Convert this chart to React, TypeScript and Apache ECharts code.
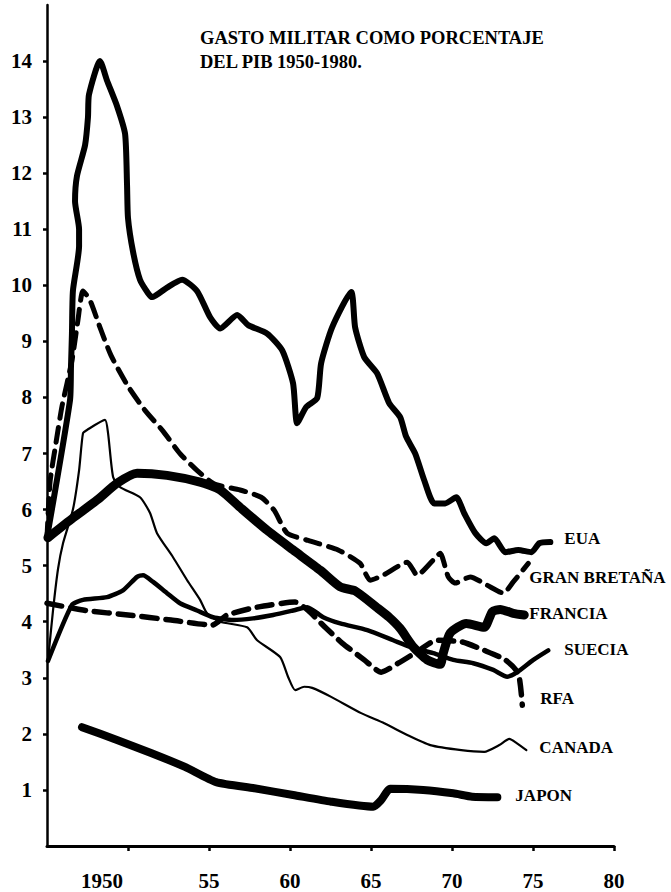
import React, { useEffect, useRef } from "react";
import * as echarts from "echarts";

// ---- axis ticks / labels ----
const yTickValues = [1, 2, 3, 4, 5, 6, 7, 8, 9, 10, 11, 12, 13, 14];
const xTickValues = [1950, 1955, 1960, 1965, 1970, 1975, 1980];
const xTickLabels = ["1950", "55", "60", "65", "70", "75", "80"];
const titleLines = ["GASTO MILITAR COMO PORCENTAJE", "DEL PIB 1950-1980."];

// ---- series data (year, % of GDP) ----
const euaYears = [1945.0, 1946.42, 1946.48, 1946.54, 1946.6, 1946.98, 1946.98, 1946.73, 1946.85, 1947.35, 1947.53, 1947.59, 1948.27, 1948.71, 1949.32, 1949.82, 1949.94, 1950.0, 1950.31, 1950.74, 1951.24, 1951.49, 1952.41, 1953.34, 1954.26, 1955.07, 1955.69, 1956.74, 1957.42, 1958.59, 1959.52, 1960.19, 1960.44, 1961.0, 1961.68, 1961.92, 1962.6, 1963.78, 1964.02, 1964.58, 1965.38, 1966.12, 1966.8, 1967.17, 1967.73, 1968.29, 1968.9, 1969.58, 1970.26, 1970.76, 1971.44, 1972.12, 1972.61, 1973.29, 1974.09, 1974.9, 1975.39, 1976.07];
const euaValues = [5.5, 7.95, 8.54, 9.14, 9.9, 10.7, 11.0, 11.5, 11.95, 12.5, 13.0, 13.4, 14.0, 13.65, 13.2, 12.7, 11.8, 11.2, 10.6, 10.1, 9.86, 9.79, 9.96, 10.1, 9.9, 9.43, 9.23, 9.47, 9.29, 9.14, 8.84, 8.25, 7.54, 7.83, 7.99, 8.61, 9.25, 9.88, 9.25, 8.72, 8.43, 7.9, 7.65, 7.3, 7.0, 6.52, 6.11, 6.11, 6.22, 5.93, 5.58, 5.4, 5.49, 5.24, 5.28, 5.24, 5.4, 5.42];

const gbYears = [1945.0, 1945.19, 1945.56, 1945.93, 1946.54, 1946.91, 1947.22, 1947.66, 1948.27, 1948.95, 1950.0, 1951.05, 1952.16, 1953.21, 1954.26, 1955.31, 1956.92, 1958.22, 1959.02, 1959.82, 1961.12, 1962.97, 1964.33, 1964.95, 1965.75, 1967.24, 1967.85, 1968.84, 1969.27, 1969.77, 1970.2, 1971.13, 1972.18, 1973.17, 1973.78, 1974.71];
const gbValues = [5.5, 6.5, 7.2, 7.85, 8.66, 9.38, 9.9, 9.73, 9.25, 8.75, 8.2, 7.77, 7.4, 7.0, 6.7, 6.46, 6.35, 6.22, 5.99, 5.58, 5.45, 5.28, 5.04, 4.74, 4.83, 5.06, 4.83, 5.1, 5.22, 4.8, 4.69, 4.8, 4.65, 4.51, 4.71, 5.04];

const franciaYears = [1945.06, 1946.6, 1948.09, 1949.32, 1950.56, 1952.41, 1954.45, 1955.69, 1956.92, 1958.59, 1960.19, 1961.86, 1963.1, 1964.02, 1965.38, 1966.12, 1966.8, 1967.61, 1968.47, 1969.27, 1969.46, 1969.89, 1970.88, 1971.99, 1972.49, 1972.98, 1973.78, 1974.46];
const franciaValues = [5.5, 5.85, 6.17, 6.47, 6.65, 6.61, 6.49, 6.35, 6.04, 5.63, 5.28, 4.92, 4.62, 4.55, 4.25, 4.08, 3.88, 3.55, 3.32, 3.24, 3.44, 3.8, 3.97, 3.9, 4.18, 4.22, 4.15, 4.12];

const sueciaYears = [1945.06, 1946.54, 1947.22, 1948.71, 1949.69, 1950.56, 1950.93, 1951.55, 1952.41, 1953.21, 1954.26, 1955.25, 1956.49, 1957.72, 1958.96, 1960.19, 1961.06, 1962.05, 1963.1, 1964.77, 1966.37, 1967.42, 1968.84, 1970.08, 1971.31, 1972.55, 1973.41, 1974.03, 1975.02, 1975.94];
const sueciaValues = [3.3, 4.3, 4.39, 4.44, 4.56, 4.8, 4.83, 4.71, 4.51, 4.33, 4.2, 4.08, 4.03, 4.06, 4.12, 4.2, 4.26, 4.08, 3.97, 3.85, 3.67, 3.55, 3.44, 3.32, 3.26, 3.14, 3.02, 3.1, 3.32, 3.49];

const rfaYears = [1945.0, 1947.41, 1950.0, 1952.66, 1955.19, 1956.12, 1957.97, 1960.32, 1961.12, 1962.17, 1963.22, 1964.58, 1965.63, 1966.68, 1967.98, 1969.03, 1970.63, 1971.99, 1973.29, 1974.09, 1974.34];
const rfaValues = [4.33, 4.2, 4.12, 4.03, 3.94, 4.12, 4.26, 4.35, 4.2, 3.9, 3.62, 3.32, 3.1, 3.26, 3.49, 3.67, 3.64, 3.49, 3.32, 3.08, 2.51];

const canadaYears = [1945.06, 1945.37, 1945.68, 1945.99, 1946.6, 1946.98, 1947.22, 1947.47, 1948.58, 1948.77, 1949.08, 1949.51, 1950.74, 1951.36, 1951.79, 1952.78, 1953.65, 1954.45, 1954.88, 1955.69, 1957.35, 1957.97, 1959.39, 1959.89, 1960.32, 1960.87, 1961.37, 1962.54, 1964.39, 1965.82, 1967.24, 1968.66, 1970.57, 1971.99, 1972.92, 1973.54, 1973.97, 1974.59];
const canadaValues = [3.3, 4.2, 4.94, 5.4, 6.0, 6.7, 7.36, 7.42, 7.6, 7.36, 6.58, 6.4, 6.22, 5.94, 5.58, 5.15, 4.74, 4.39, 4.15, 4.0, 3.9, 3.67, 3.37, 3.01, 2.78, 2.84, 2.82, 2.66, 2.37, 2.19, 1.98, 1.8, 1.71, 1.68, 1.8, 1.91, 1.84, 1.71];

const japonYears = [1947.16, 1949.32, 1951.42, 1953.52, 1955.44, 1957.79, 1960.19, 1962.54, 1965.14, 1965.63, 1966.19, 1968.22, 1970.08, 1971.25, 1972.8];
const japonValues = [2.12, 1.89, 1.66, 1.41, 1.14, 1.03, 0.91, 0.79, 0.7, 0.82, 1.02, 1.0, 0.94, 0.88, 0.87];

const FONT = "'Liberation Serif', 'Times New Roman', serif";

type Spec = {
  name: string;
  years: number[];
  values: number[];
  width: number;
  dashed: boolean;
  labelOffset: [number, number];
};

const specs: Spec[] = [
  { name: "CANADA", years: canadaYears, values: canadaValues, width: 2.2, dashed: false, labelOffset: [13, -3] },
  { name: "SUECIA", years: sueciaYears, values: sueciaValues, width: 4.5, dashed: false, labelOffset: [16, -1] },
  { name: "RFA", years: rfaYears, values: rfaValues, width: 5.5, dashed: true, labelOffset: [18, -7] },
  { name: "GRAN BRETAÑA", years: gbYears, values: gbValues, width: 5, dashed: true, labelOffset: [1, 14] },
  { name: "EUA", years: euaYears, values: euaValues, width: 6, dashed: false, labelOffset: [14, -4] },
  { name: "FRANCIA", years: franciaYears, values: franciaValues, width: 9, dashed: false, labelOffset: [5, -2] },
  { name: "JAPON", years: japonYears, values: japonValues, width: 8, dashed: false, labelOffset: [18, -2] },
];

export default function App() {
  const ref = useRef<HTMLDivElement>(null);

  useEffect(() => {
    if (!ref.current) return;
    const chart = echarts.init(ref.current, undefined, { renderer: "svg" });

    const series = specs.map((s) => ({
      type: "line",
      name: s.name,
      data: s.years.map((y, i) => [y, s.values[i]]),
      symbol: "none",
      smooth: 0.2,
      lineStyle: {
        color: "#000",
        width: s.width,
        type: s.dashed ? [15, 9] : "solid",
        cap: "round",
        join: "round",
      },
      endLabel: {
        show: true,
        formatter: s.name,
        distance: 0,
        offset: s.labelOffset,
        color: "#000",
        fontFamily: FONT,
        fontWeight: "bold",
        fontSize: 17,
      },
    }));

    chart.setOption({
      animation: false,
      backgroundColor: "#fff",
      grid: { left: 47, right: 57, top: 5, bottom: 46, containLabel: false },
      xAxis: {
        type: "value",
        min: 1945,
        max: 1980,
        interval: 5,
        splitLine: { show: false },
        axisLine: { show: true, lineStyle: { color: "#000", width: 3 } },
        axisTick: {
          show: true,
          customValues: xTickValues,
          length: 5,
          lineStyle: { color: "#000", width: 2.5 },
        },
        axisLabel: {
          customValues: xTickValues,
          margin: 24,
          color: "#000",
          fontFamily: FONT,
          fontWeight: "bold",
          fontSize: 21,
          formatter: (v: number) => {
            const i = xTickValues.indexOf(Math.round(v));
            if (i === 0) return "{a|" + xTickLabels[0] + "}";
            return i >= 0 ? xTickLabels[i] : "";
          },
          rich: {
            a: {
              padding: [0, 52, 0, 0],
              color: "#000",
              fontFamily: FONT,
              fontWeight: "bold",
              fontSize: 21,
            },
          },
        },
      },
      yAxis: {
        type: "value",
        min: 0,
        max: 15,
        interval: 1,
        splitLine: { show: false },
        axisLine: { show: true, lineStyle: { color: "#000", width: 2.5 } },
        axisTick: {
          show: true,
          customValues: yTickValues,
          length: 4,
          lineStyle: { color: "#000", width: 2.5 },
        },
        axisLabel: {
          customValues: yTickValues,
          margin: 15,
          color: "#000",
          fontFamily: FONT,
          fontWeight: "bold",
          fontSize: 21,
        },
      },
      graphic: [
        {
          type: "text",
          x: 200,
          y: 26,
          style: {
            text: titleLines.join("\n"),
            fill: "#000",
            fontFamily: FONT,
            fontWeight: "bold",
            fontSize: 18.5,
            lineHeight: 24,
          },
        },
      ],
      series,
    });

    return () => chart.dispose();
  }, []);

  return (
    <div
      ref={ref}
      style={{ position: "fixed", left: 0, top: 0, width: 671, height: 892, background: "#fff" }}
    />
  );
}
